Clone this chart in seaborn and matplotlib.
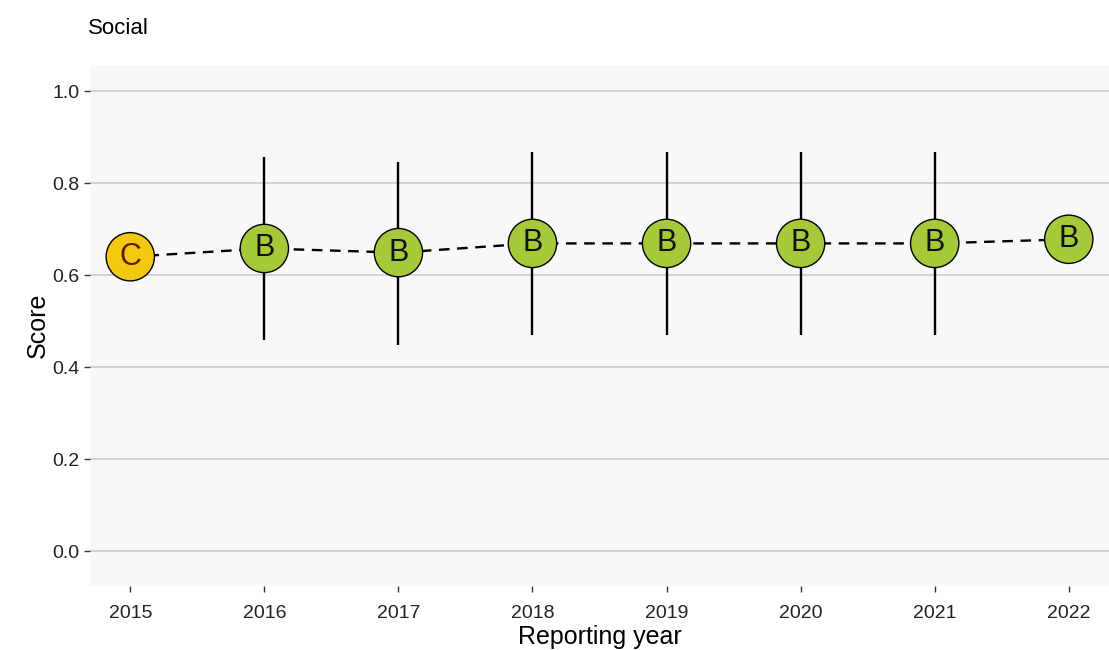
import matplotlib
matplotlib.use("Agg")
import matplotlib.pyplot as plt
import seaborn as sns
import pandas as pd

# Yearly social score with grade and uncertainty range
years = [2015, 2016, 2017, 2018, 2019, 2020, 2021, 2022]
scores = [0.640, 0.658, 0.649, 0.669, 0.669, 0.669, 0.669, 0.678]
grades = ["C", "B", "B", "B", "B", "B", "B", "B"]
lower = [None, 0.459, 0.448, 0.470, 0.470, 0.470, 0.470, None]
upper = [None, 0.857, 0.846, 0.868, 0.868, 0.868, 0.868, None]

grade_colors = {"B": "#A6C93A", "C": "#F2C811"}
grade_text = {"B": "#111111", "C": "#5a1d0c"}

df = pd.DataFrame({"year": years, "score": scores, "grade": grades,
                   "lo": lower, "hi": upper})

sns.set_theme(style="whitegrid")
plt.rcParams["font.family"] = ["Liberation Sans", "DejaVu Sans"]

fig = plt.figure(figsize=(11.09, 6.5), dpi=100)
ax = fig.add_axes([0.0812, 0.0985, 0.9188, 0.8015])
ax.set_facecolor("#f8f8f8")

# dashed trend line through the yearly scores
sns.lineplot(data=df, x="year", y="score", ax=ax, color="black",
             linewidth=1.7, dashes=False, zorder=2)
ax.lines[0].set_dashes((4.5, 3.2))

# uncertainty ranges
rng = df.dropna(subset=["lo", "hi"])
ax.vlines(rng["year"], rng["lo"], rng["hi"], color="black", linewidth=1.7,
          zorder=3)

# grade markers
sns.scatterplot(data=df, x="year", y="score", hue="grade",
                palette=grade_colors, s=1210, edgecolor="black",
                linewidth=1.0, ax=ax, legend=False, zorder=4)
for _, r in df.iterrows():
    ax.text(r["year"], r["score"], r["grade"], ha="center", va="center",
            fontsize=22, color=grade_text[r["grade"]], zorder=5)

ax.set_xlim(2014.7, 2022.3)
ax.set_ylim(-0.076, 1.057)
ax.set_xticks(years)
ax.set_xticklabels([str(y) for y in years])
ax.set_yticks([0.0, 0.2, 0.4, 0.6, 0.8, 1.0])
ax.set_yticklabels(["0.0", "0.2", "0.4", "0.6", "0.8", "1.0"])

ax.grid(axis="x", visible=False)
ax.grid(axis="y", color="#d2d2d2", linewidth=1.4)
for s in ax.spines.values():
    s.set_visible(False)
ax.tick_params(axis="both", which="major", length=4.5, width=1.0,
               color="#333333", labelsize=14, labelcolor="#222222",
               left=True, bottom=True)
ax.tick_params(axis="x", pad=9)
ax.tick_params(axis="y", pad=3)

ax.set_xlabel("Reporting year", fontsize=18, color="black", labelpad=2)
ax.set_ylabel("Score", fontsize=18, color="black", labelpad=2)

fig.text(88 / 1109, 1 - 28 / 650, "Social", fontsize=16, color="black",
         ha="left", va="center")

fig.savefig("out.png", dpi=100, facecolor="white")
